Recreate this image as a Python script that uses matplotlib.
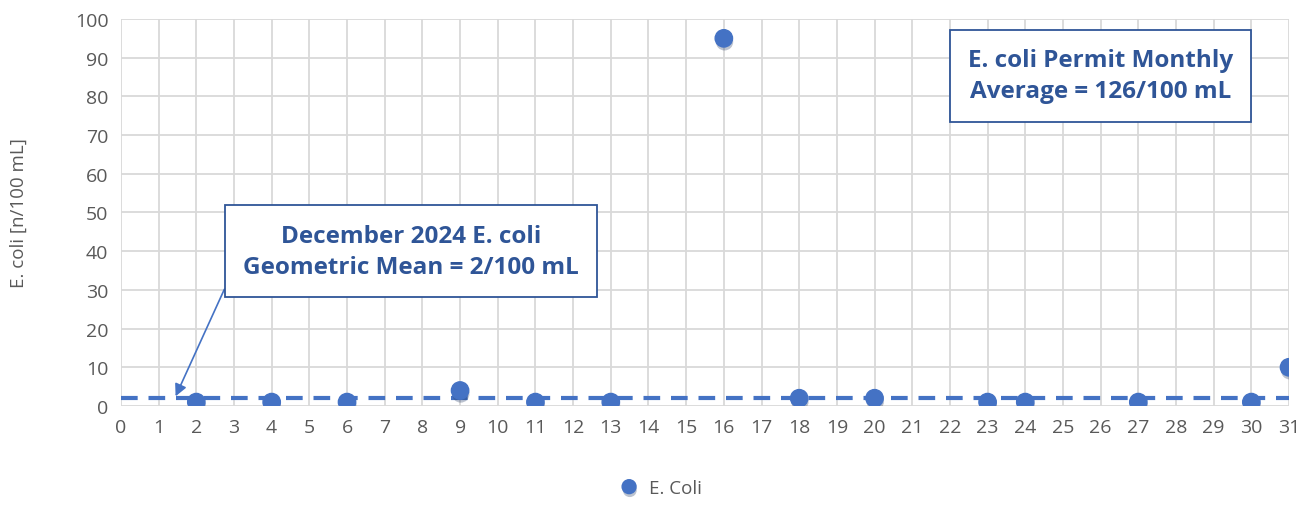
import matplotlib.pyplot as plt
import matplotlib.patheffects as pe

# December 2024 sampling days and results
days = [2, 4, 6, 9, 11, 13, 16, 18, 20, 23, 24, 27, 30, 31]
ecoli = [1, 1, 1, 4, 1, 1, 95, 2, 2, 1, 1, 1, 1, 10]
geo_mean = 2
x_ticks = list(range(0, 32))
y_ticks = list(range(0, 101, 10))

blue = '#4472C4'
dark_blue = '#2F5597'
grey_text = '#595959'

plt.rcParams['font.family'] = ['Open Sans', 'DejaVu Sans']

fig = plt.figure(figsize=(13.12, 5.10), dpi=100)
ax = fig.add_axes([0.0922, 0.202, 0.8903, 0.7588])

ax.plot([x_ticks[0], x_ticks[-1]], [geo_mean, geo_mean], color=blue, lw=3,
        dashes=(4, 2.6), zorder=2)
ax.plot(days, ecoli, 'o', color=blue, ms=12.5, label='E. Coli', zorder=3,
        path_effects=[pe.SimplePatchShadow(offset=(0.5, -2.5), alpha=0.3, rho=0.5),
                      pe.Normal()])

ax.set_xlim(x_ticks[0], x_ticks[-1])
ax.set_ylim(y_ticks[0], y_ticks[-1])
ax.set_xticks(x_ticks)
ax.set_yticks(y_ticks)
ax.grid(True, color='#d9d9d9', lw=1.3)
ax.set_axisbelow(True)
for s in ax.spines.values():
    s.set_visible(False)
ax.tick_params(length=0, labelsize=14, labelcolor=grey_text, pad=9)
ax.set_ylabel('E. coli [n/100 mL]', fontsize=13.5, color=grey_text, labelpad=34)

box = dict(boxstyle='square,pad=0.75', fc='white', ec=dark_blue, lw=1.3)
ax.annotate('December 2024 E. coli\nGeometric Mean = 2/100 mL',
            xy=(1.45, 2.5), xytext=(7.7, 40), textcoords='data',
            ha='center', va='center', fontsize=17.5, fontweight='bold',
            color=dark_blue, bbox=box, linespacing=1.4,
            arrowprops=dict(arrowstyle='-|>', color=blue, lw=1.2,
                            mutation_scale=18, shrinkA=0, shrinkB=0,
                            relpos=(0, 0.56)))
ax.text(26, 85.3, 'E. coli Permit Monthly\nAverage = 126/100 mL',
        ha='center', va='center', fontsize=17.5, fontweight='bold',
        color=dark_blue, bbox=box, linespacing=1.4)

fig.legend(loc='lower center', bbox_to_anchor=(0.5, -0.01), frameon=False,
           fontsize=13.5, labelcolor=grey_text, handletextpad=0.05,
           markerscale=0.8)

fig.savefig('out.png', dpi=100)
